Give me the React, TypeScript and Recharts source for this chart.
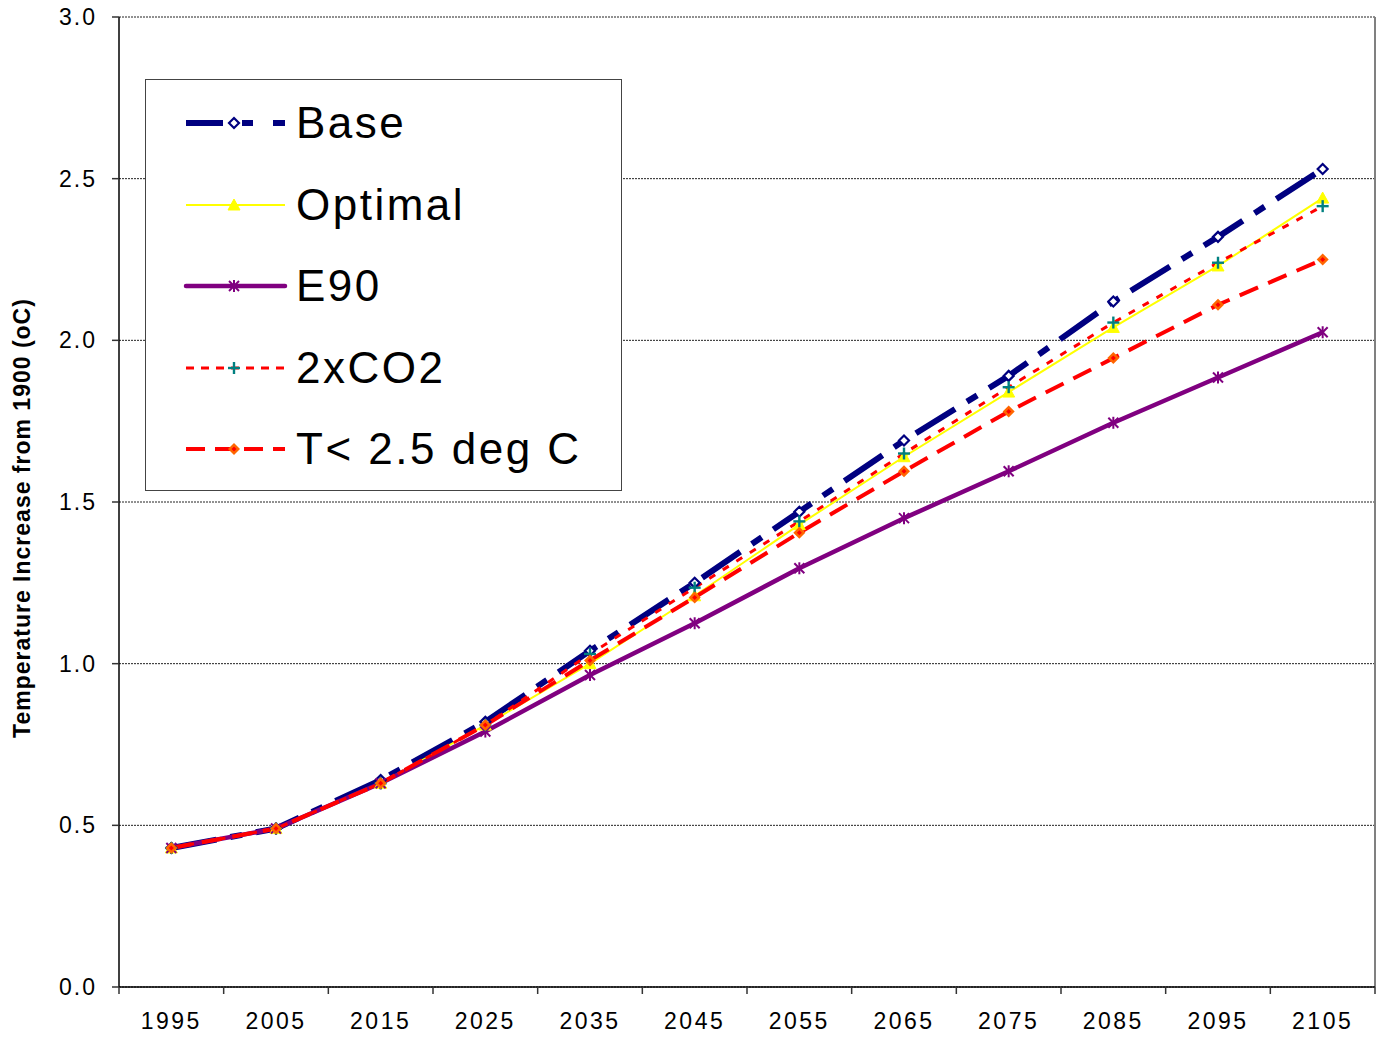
import React from 'react';
import {
  LineChart,
  Line,
  XAxis,
  YAxis,
  CartesianGrid,
  ReferenceLine,
  Legend,
} from 'recharts';

// Projected global mean temperature increase (deg C above 1900) per scenario
const YEARS = [1995, 2005, 2015, 2025, 2035, 2045, 2055, 2065, 2075, 2085, 2095, 2105];
const BASE = [0.43, 0.49, 0.64, 0.82, 1.04, 1.25, 1.47, 1.69, 1.89, 2.12, 2.32, 2.53];
const OPTIMAL = [0.43, 0.49, 0.63, 0.81, 1.0, 1.21, 1.43, 1.64, 1.84, 2.04, 2.23, 2.44];
const E90 = [0.43, 0.49, 0.63, 0.79, 0.965, 1.125, 1.295, 1.45, 1.595, 1.745, 1.885, 2.025];
const CO2X2 = [0.43, 0.49, 0.63, 0.81, 1.03, 1.235, 1.44, 1.65, 1.855, 2.055, 2.24, 2.415];
const T25 = [0.43, 0.49, 0.63, 0.81, 1.01, 1.205, 1.405, 1.595, 1.78, 1.945, 2.11, 2.25];

const Y_TICKS = [0, 0.5, 1.0, 1.5, 2.0, 2.5, 3.0];
const Y_TITLE = 'Temperature Increase from 1900 (oC)';

const data = YEARS.map((year, i) => ({
  year,
  base: BASE[i],
  optimal: OPTIMAL[i],
  e90: E90[i],
  co2x2: CO2X2[i],
  t25: T25[i],
}));

// category boundaries (tick marks sit between the year labels)
const HALF_STEP = (YEARS[1] - YEARS[0]) / 2;
const EDGES = [...YEARS.map((y) => y - HALF_STEP), YEARS[YEARS.length - 1] + HALF_STEP];

const W = 1383;
const H = 1040;
const MARGIN = { top: 17, right: 8, left: 59, bottom: 13 };
const Y_AXIS_W = 60;
const X_AXIS_H = 40;
const PLOT_W = W - MARGIN.left - Y_AXIS_W - MARGIN.right;
const BAND = PLOT_W / YEARS.length;

const FONT = '"Liberation Sans", Arial, Helvetica, sans-serif';

type MarkerKind = 'diamondOpen' | 'triangle' | 'asterisk' | 'plus' | 'diamondOrange';

function Marker({ kind, cx, cy }: { kind: MarkerKind; cx: number; cy: number }) {
  switch (kind) {
    case 'diamondOpen':
      return (
        <path
          d={`M${cx},${cy - 5} L${cx + 5},${cy} L${cx},${cy + 5} L${cx - 5},${cy} Z`}
          fill="#ffffff"
          stroke="#000080"
          strokeWidth={2.2}
        />
      );
    case 'triangle':
      return (
        <path
          d={`M${cx},${cy - 6} L${cx + 6},${cy + 5} L${cx - 6},${cy + 5} Z`}
          fill="#ffff00"
          stroke="#ffff00"
          strokeWidth={1}
        />
      );
    case 'asterisk':
      return (
        <g stroke="#800080" strokeWidth={2}>
          <line x1={cx - 5} y1={cy - 5} x2={cx + 5} y2={cy + 5} />
          <line x1={cx - 5} y1={cy + 5} x2={cx + 5} y2={cy - 5} />
          <line x1={cx} y1={cy - 6} x2={cx} y2={cy + 6} />
        </g>
      );
    case 'plus':
      return (
        <g stroke="#008080" strokeWidth={2.4}>
          <line x1={cx - 6} y1={cy} x2={cx + 6} y2={cy} />
          <line x1={cx} y1={cy - 6} x2={cx} y2={cy + 6} />
        </g>
      );
    case 'diamondOrange':
      return (
        <g>
          <path
            d={`M${cx},${cy - 6} L${cx + 6},${cy} L${cx},${cy + 6} L${cx - 6},${cy} Z`}
            fill="#ff6600"
          />
          <path
            d={`M${cx},${cy - 2.5} L${cx + 2.5},${cy} L${cx},${cy + 2.5} L${cx - 2.5},${cy} Z`}
            fill="#ff0000"
          />
        </g>
      );
    default:
      return null;
  }
}

interface SeriesDef {
  key: string;
  name: string;
  color: string;
  width: number;
  dash?: string;
  marker: MarkerKind;
}

const SERIES: SeriesDef[] = [
  { key: 'base', name: 'Base', color: '#000080', width: 6, dash: '46 14 12 14', marker: 'diamondOpen' },
  { key: 'optimal', name: 'Optimal', color: '#ffff00', width: 2, marker: 'triangle' },
  { key: 'e90', name: 'E90', color: '#800080', width: 4.5, marker: 'asterisk' },
  { key: 'co2x2', name: '2xCO2', color: '#ff0000', width: 3, dash: '7 9', marker: 'plus' },
  { key: 't25', name: 'T< 2.5 deg C', color: '#ff0000', width: 4, dash: '20 11', marker: 'diamondOrange' },
];

// legend icon dash patterns (shorter than the plotted ones to fit the swatch)
const LEGEND_DASH: Record<string, string | undefined> = {
  base: '37 19 11 20 12',
  optimal: undefined,
  e90: undefined,
  co2x2: '8 7',
  t25: '19 10',
};

function LegendBox() {
  return (
    <div
      style={{
        width: 477,
        height: 412,
        border: '1px solid #444',
        background: '#ffffff',
        boxSizing: 'border-box',
        position: 'relative',
        fontFamily: FONT,
      }}
    >
      {SERIES.map((s, i) => {
        const rowY = 43 + i * 81.5;
        return (
          <div
            key={s.key}
            style={{
              position: 'absolute',
              left: 0,
              top: rowY - 30,
              height: 60,
              display: 'flex',
              alignItems: 'center',
            }}
          >
            <svg width={150} height={60} style={{ display: 'block' }}>
              <line
                x1={40}
                y1={30}
                x2={139}
                y2={30}
                stroke={s.color}
                strokeWidth={s.width}
                strokeDasharray={LEGEND_DASH[s.key]}
                strokeLinecap={s.key === 'e90' ? 'round' : 'butt'}
              />
              <Marker kind={s.marker} cx={88} cy={30} />
            </svg>
            <span
              style={{
                fontSize: 44,
                letterSpacing: 2.5,
                color: '#000',
                lineHeight: '60px',
                whiteSpace: 'nowrap',
              }}
            >
              {s.name}
            </span>
          </div>
        );
      })}
    </div>
  );
}

function YearTick(props: any) {
  const { x, y, payload } = props;
  const idx = EDGES.indexOf(payload.value);
  if (idx < 0 || idx >= YEARS.length) return <g />;
  return (
    <text
      x={x + BAND / 2}
      y={y}
      dy="0.71em"
      textAnchor="middle"
      fontSize={23}
      letterSpacing={2.5}
      fontFamily={FONT}
      fill="#000"
    >
      {YEARS[idx]}
    </text>
  );
}

function YTitle() {
  const cx = 22;
  const cy = 518;
  return (
    <text
      x={cx}
      y={cy}
      transform={`rotate(-90, ${cx}, ${cy})`}
      textAnchor="middle"
      dominantBaseline="central"
      fontSize={23}
      letterSpacing={1}
      fontWeight="bold"
      fontFamily={FONT}
      fill="#000"
    >
      {Y_TITLE}
    </text>
  );
}

export default function App() {
  return (
    <div style={{ position: 'absolute', left: 0, top: 0, width: W, height: H, background: '#fff' }}>
      <LineChart width={W} height={H} data={data} margin={MARGIN}>
        <CartesianGrid vertical={false} stroke="#222" strokeDasharray="2 1" />
        <ReferenceLine x={EDGES[EDGES.length - 1]} stroke="#808080" strokeWidth={2} />
        <XAxis
          dataKey="year"
          type="number"
          domain={[EDGES[0], EDGES[EDGES.length - 1]]}
          ticks={EDGES}
          interval={0}
          height={X_AXIS_H}
          tick={<YearTick />}
          tickSize={7}
          tickMargin={19}
          axisLine={{ stroke: '#000', strokeWidth: 1.5 }}
          tickLine={{ stroke: '#333', strokeWidth: 1.5 }}
        />
        <YAxis
          type="number"
          domain={[0, 3]}
          ticks={Y_TICKS}
          interval={0}
          width={Y_AXIS_W}
          tickFormatter={(v: number) => v.toFixed(1)}
          tick={{ fontSize: 23, letterSpacing: 2, fill: '#000', fontFamily: FONT }}
          tickSize={7}
          tickMargin={15}
          axisLine={{ stroke: '#000', strokeWidth: 1.5 }}
          tickLine={{ stroke: '#333', strokeWidth: 1.5 }}
          label={<YTitle />}
        />
        <Legend
          layout="horizontal"
          verticalAlign="middle"
          align="center"
          content={() => <LegendBox />}
          wrapperStyle={{ position: 'absolute', left: 145, top: 79, width: 477, height: 412 }}
        />
        {SERIES.map((s) => (
          <Line
            key={s.key}
            type="linear"
            dataKey={s.key}
            name={s.name}
            stroke={s.color}
            strokeWidth={s.width}
            strokeDasharray={s.dash}
            strokeLinejoin="round"
            isAnimationActive={false}
            dot={(p: any) => <Marker key={`${s.key}-${p.index}`} kind={s.marker} cx={p.cx} cy={p.cy} />}
            activeDot={false}
          />
        ))}
      </LineChart>
    </div>
  );
}
